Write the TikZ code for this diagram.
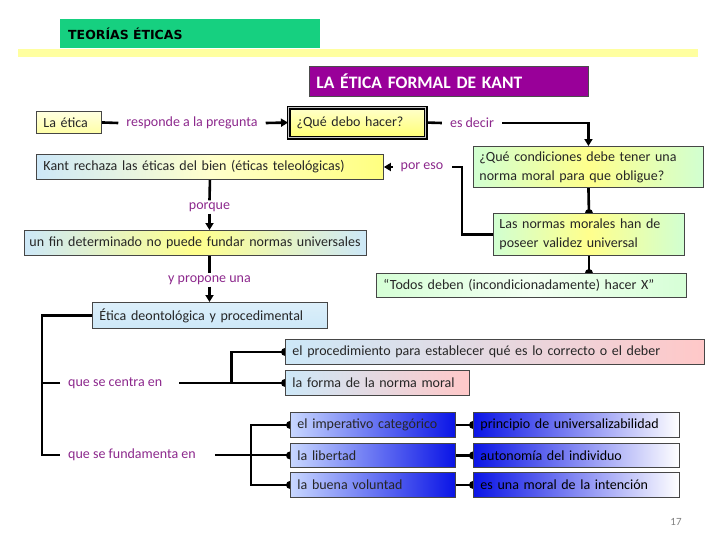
\documentclass[tikz,border=0pt]{standalone}
\usepackage{fontspec}
\setmainfont{Carlito}
\newfontfamily\titlefont{DejaVu Sans}
\usetikzlibrary{arrows.meta,calc}
\pgfdeclarelayer{background}
\pgfsetlayers{background,main}
\definecolor{hgreen}{RGB}{22,208,128}
\definecolor{hyellow}{RGB}{255,255,160}
\definecolor{kpurple}{RGB}{153,0,153}
\definecolor{lpurple}{RGB}{140,40,140}
\definecolor{bxedge}{RGB}{70,70,70}
\definecolor{pyel}{RGB}{255,255,190}
\definecolor{pblue}{RGB}{205,232,248}
\definecolor{pgreen}{RGB}{205,245,190}
\definecolor{ppink}{RGB}{255,200,200}
\definecolor{dblue}{RGB}{10,20,230}
\definecolor{lblue}{RGB}{200,215,255}
\begin{document}
\begin{tikzpicture}[x=1pt,y=-1pt,
 bx/.style={draw=bxedge, line width=0.9pt, anchor=north west, inner xsep=7pt, inner ysep=0pt, align=left, font=\fontsize{14}{19}\selectfont, text=black!85},
 lbl/.style={text=lpurple, font=\fontsize{14}{16}\selectfont, inner xsep=8pt, inner ysep=2pt},
 conn/.style={line width=2.6pt},
 arr/.style={conn, -{Triangle[length=7pt,width=8pt]}},
 dotmark/.style={fill=black},
]
\useasboundingbox (0,0) rectangle (728,546);
% header
\node[fill=hyellow, anchor=north west, minimum width=680pt, minimum height=8pt, inner sep=0pt] (stripe) at (18,49) {};
\node[fill=hgreen, anchor=north west, minimum height=29pt, text width=244pt, inner xsep=8pt, inner ysep=0pt, align=left, font=\titlefont\bfseries\fontsize{12.5}{14}\selectfont] (hdr) at (60,19) {TEORÍAS ÉTICAS};
\node[fill=kpurple, draw=black!70, line width=0.8pt, anchor=north west, minimum height=30pt, text width=265pt, inner xsep=7pt, inner ysep=0pt, align=left, text=white, font=\bfseries\fontsize{17.5}{19}\selectfont] (kant title) at (309,66) {LA ÉTICA FORMAL DE KANT};
% boxes
\node[bx, top color=yellow!12, bottom color=yellow!35, minimum height=22pt, text width=51pt] (etica) at (36,111) {La ética};
\node[bx, draw=black, double=gray!45, double distance=1.8pt, line width=1.1pt, top color=yellow!20, bottom color=yellow!55, minimum height=30pt, text width=121pt, inner xsep=8pt] (que) at (288,107) {¿Qué debo hacer?};
\node[bx, left color=pblue, right color=yellow!50, middle color=yellow!20, minimum height=25pt, text width=333pt] (kant) at (36,154) {\mbox{Kant rechaza las éticas del bien (éticas teleológicas)}};
\node[bx, left color=green!18, right color=green!18, middle color=yellow!45, minimum height=41pt, text width=218pt, inner xsep=6pt] (cond) at (473,146) {\mbox{¿Qué condiciones debe tener una}\\\mbox{norma moral para que obligue?}};
\node[bx, left color=green!18, right color=green!18, middle color=yellow!45, minimum height=42pt, text width=179pt, inner xsep=6pt] (normas) at (493,213) {\mbox{Las normas morales han de}\\\mbox{poseer validez universal}};
\node[bx, left color=pblue, right color=pblue, middle color=yellow!45, minimum height=25pt, text width=332pt, inner xsep=5pt] (fin) at (24,230) {\mbox{un fin determinado no puede fundar normas universales}};
\node[bx, left color=green!16, right color=green!16, middle color=green!5, minimum height=24pt, text width=296pt] (todos) at (376,273) {\mbox{“Todos deben (incondicionadamente) hacer X”}};
\node[bx, top color=pblue!70, bottom color=pblue, minimum height=26pt, text width=221pt] (deon) at (92,302) {\mbox{Ética deontológica y procedimental}};
\node[bx, left color=pblue, right color=ppink, minimum height=25pt, text width=405pt] (proc) at (285,339) {\mbox{el procedimiento para establecer qué es lo correcto o el deber}};
\node[bx, left color=pblue, right color=ppink, minimum height=25pt, text width=170pt] (forma) at (285,370) {\mbox{la forma de la norma moral}};
\node[bx, left color=lblue, right color=dblue, minimum height=25pt, text width=151pt] (imp) at (290,412) {\mbox{el imperativo categórico}};
\node[bx, left color=lblue, right color=dblue, minimum height=24pt, text width=151pt] (lib) at (290,443) {la libertad};
\node[bx, left color=lblue, right color=dblue, minimum height=25pt, text width=151pt] (buena) at (290,472) {\mbox{la buena voluntad}};
\node[bx, left color=dblue, right color=white, minimum height=25pt, text width=192pt, text=black] (univ) at (473,412) {\mbox{principio de universalizabilidad}};
\node[bx, left color=dblue, right color=white, minimum height=24pt, text width=192pt, text=black] (auto) at (473,443) {\mbox{autonomía del individuo}};
\node[bx, left color=dblue, right color=white, minimum height=25pt, text width=192pt, text=black] (int) at (473,472) {\mbox{es una moral de la intención}};
% labels
\node[lbl] (responde) at (192,123) {responde a la pregunta};
\node[lbl] (esdecir) at (472,123) {es decir};
\node[lbl] (poreso) at (422,167) {por eso};
\node[lbl] (porque) at (209.5,207) {porque};
\node[lbl] (propone) at (209.5,280) {y propone una};
\node[lbl, anchor=west] (centra) at (60,383) {que se centra en};
\node[lbl, anchor=west] (funda) at (60,455) {que se fundamenta en};
\node[text=gray, font=\fontsize{11}{12}\selectfont] (pg) at (676,522) {17};
% connectors
\begin{pgfonlayer}{background}
\draw[conn] (etica.east) -- (responde.west);
\draw[arr] (responde.east) -- (que.west);
\draw[conn] (que.east) -- (esdecir.west);
\draw[arr] (esdecir.east) -| (cond.north);
\draw[conn] (cond.south) -- (normas.north);
\fill[dotmark] (normas.north) circle (4);
\draw[conn] (normas.south) -- (normas.south |- todos.north);
\fill[dotmark] (normas.south |- todos.north) circle (4);
\draw[conn] (normas.west) -- ++(-31,0) |- (poreso.east);
\draw[arr] (poreso.west) -- (poreso.west -| kant.east);
\draw[conn] (kant.south) -- (porque.north);
\draw[arr] (porque.south) -- (porque.south |- fin.north);
\draw[conn] (propone.north |- fin.south) -- (propone.north);
\draw[arr] (propone.south) -- (propone.south |- deon.north);
\draw[conn] (deon.west) -- ++(-50,0) |- (funda.west);
\draw[conn] (centra.west) -- ++(-19,0);
\path (centra.east) ++(61,0) coordinate (cj);
\path (funda.east) ++(47,0) coordinate (fj);
\draw[conn, shorten <=9pt] (centra.east) -- (centra.east -| forma.west);
\draw[conn] (cj) |- (proc.west);
\draw[conn, shorten <=11pt] (funda.east) -- (funda.east -| lib.west);
\draw[conn] (fj) |- (imp.west);
\draw[conn] (fj) |- (buena.west);
\draw[conn] (imp.east) -- (univ.west);
\draw[conn] (lib.east) -- (auto.west);
\draw[conn] (buena.east) -- (int.west);
\foreach \n in {proc,forma,imp,lib,buena,univ,auto,int} {\fill[dotmark] (\n.west) circle (4);}
\end{pgfonlayer}
\end{tikzpicture}
\end{document}
